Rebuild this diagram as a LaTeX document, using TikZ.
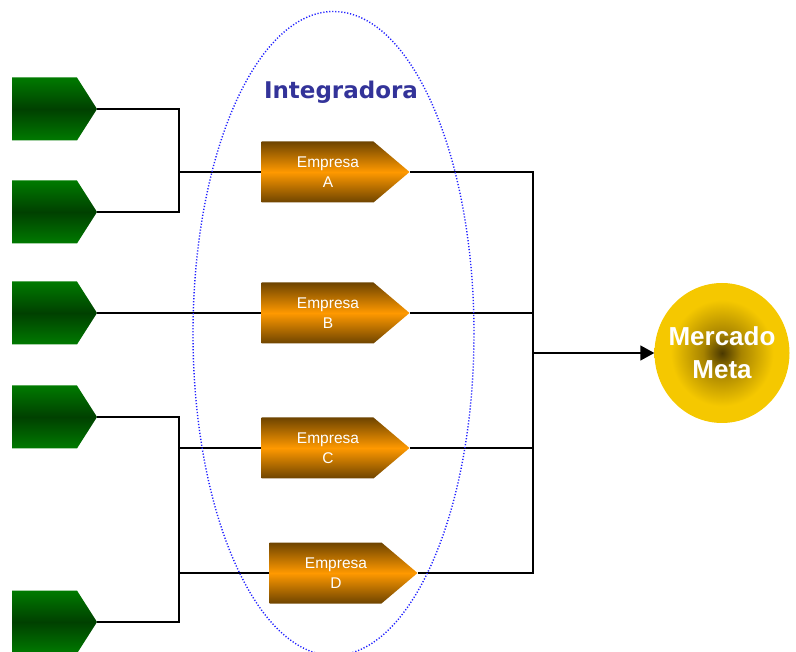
\documentclass[tikz,border=0pt]{standalone}
\usepackage{fontspec}
\setmainfont{Liberation Sans}
\newfontfamily\titlefont{DejaVu Sans}
\usetikzlibrary{positioning,arrows.meta,shapes.symbols,shapes.geometric}
\definecolor{grnedge}{HTML}{007A00}
\definecolor{grnmid}{HTML}{004000}
\definecolor{orgedge}{HTML}{6E4400}
\definecolor{orgmid}{HTML}{FF9900}
\definecolor{mmouter}{HTML}{F5C800}
\definecolor{mmmid}{HTML}{A88400}
\definecolor{mminner}{HTML}{4A3800}
\definecolor{titleblue}{HTML}{333399}
\definecolor{dotblue}{HTML}{2020FF}
\pgfdeclareradialshading{mercshade}{\pgfpoint{0bp}{0bp}}{%
  color(0bp)=(mminner); color(7bp)=(mmmid); color(19bp)=(mmouter); color(50bp)=(mmouter)}
\newcommand{\firmlabel}[1]{\hspace*{21pt}Empresa\\\hspace*{21pt}#1}
\tikzset{
  supplier/.style={shape=signal, signal to=east, signal pointer angle=115,
    minimum width=85pt, minimum height=63pt, inner sep=0pt,
    top color=grnedge, bottom color=grnedge, middle color=grnmid},
  firm/.style={shape=signal, signal to=east, signal pointer angle=80.5,
    minimum width=148pt, minimum height=61pt, inner sep=0pt, align=center,
    text=white, font=\fontsize{15.5}{19.5}\selectfont,
    top color=orgedge, bottom color=orgedge, middle color=orgmid},
  link/.style={line width=1.6pt, black},
}
\begin{document}
\begin{tikzpicture}[x=1pt,y=-1pt]
\useasboundingbox (0,0) rectangle (796,652);

% suppliers
\node[supplier] (g1) at (44.5,109) {};
\node[supplier] (g2) at (44.5,212) {};
\node[supplier] (g3) at (44.5,313) {};
\node[supplier] (g4) at (44.5,417) {};
\node[supplier] (g5) at (44.5,622) {};

% integrated firms
\node[firm] (ea) at (317.5,172) {\firmlabel{A}};
\node[firm] (eb) at (317.5,313) {\firmlabel{B}};
\node[firm] (ec) at (317.5,448) {\firmlabel{C}};
\node[firm] (ed) at (325.5,573) {\firmlabel{D}};

\node[ellipse, minimum width=135pt, minimum height=140pt, inner sep=-20pt,
  shading=mercshade, align=center, text=white,
  font=\fontsize{26}{33}\selectfont\bfseries] (mm) at (722,353) {Mercado\\Meta};

\node[text=titleblue, font=\titlefont\fontsize{23}{27}\selectfont\bfseries] (tit) at (341,92) {Integradora};

\coordinate (ja) at (179,172);
\coordinate (jc) at (179,448);
\coordinate (jd) at (179,573);
\coordinate (bus) at (533,353);

% left side
\draw[link] (g1.east) -| (ja) |- (g2.east);
\draw[link] (ja) -- (ea.west);
\draw[link] (g3.east) -- (eb.west);
\draw[link] (g4.east) -| (jd) |- (g5.east);
\draw[link] (jc) -- (ec.west);
\draw[link] (jd) -- (ed.west);

% right side
\draw[link] (ea.east) -- (ea.east -| bus) -- (ed.east -| bus) -- (ed.east);
\draw[link] (eb.east) -- (eb.east -| bus);
\draw[link] (ec.east) -- (ec.east -| bus);
\draw[link, -{Triangle[length=14pt,width=15pt]}] (bus) -- (mm.west);

% integradora boundary
\draw[dotblue, line width=1.4pt, dash pattern=on 1.2pt off 1.8pt] (333.5,333.5) ellipse [x radius=140.5, y radius=322];
\end{tikzpicture}
\end{document}
